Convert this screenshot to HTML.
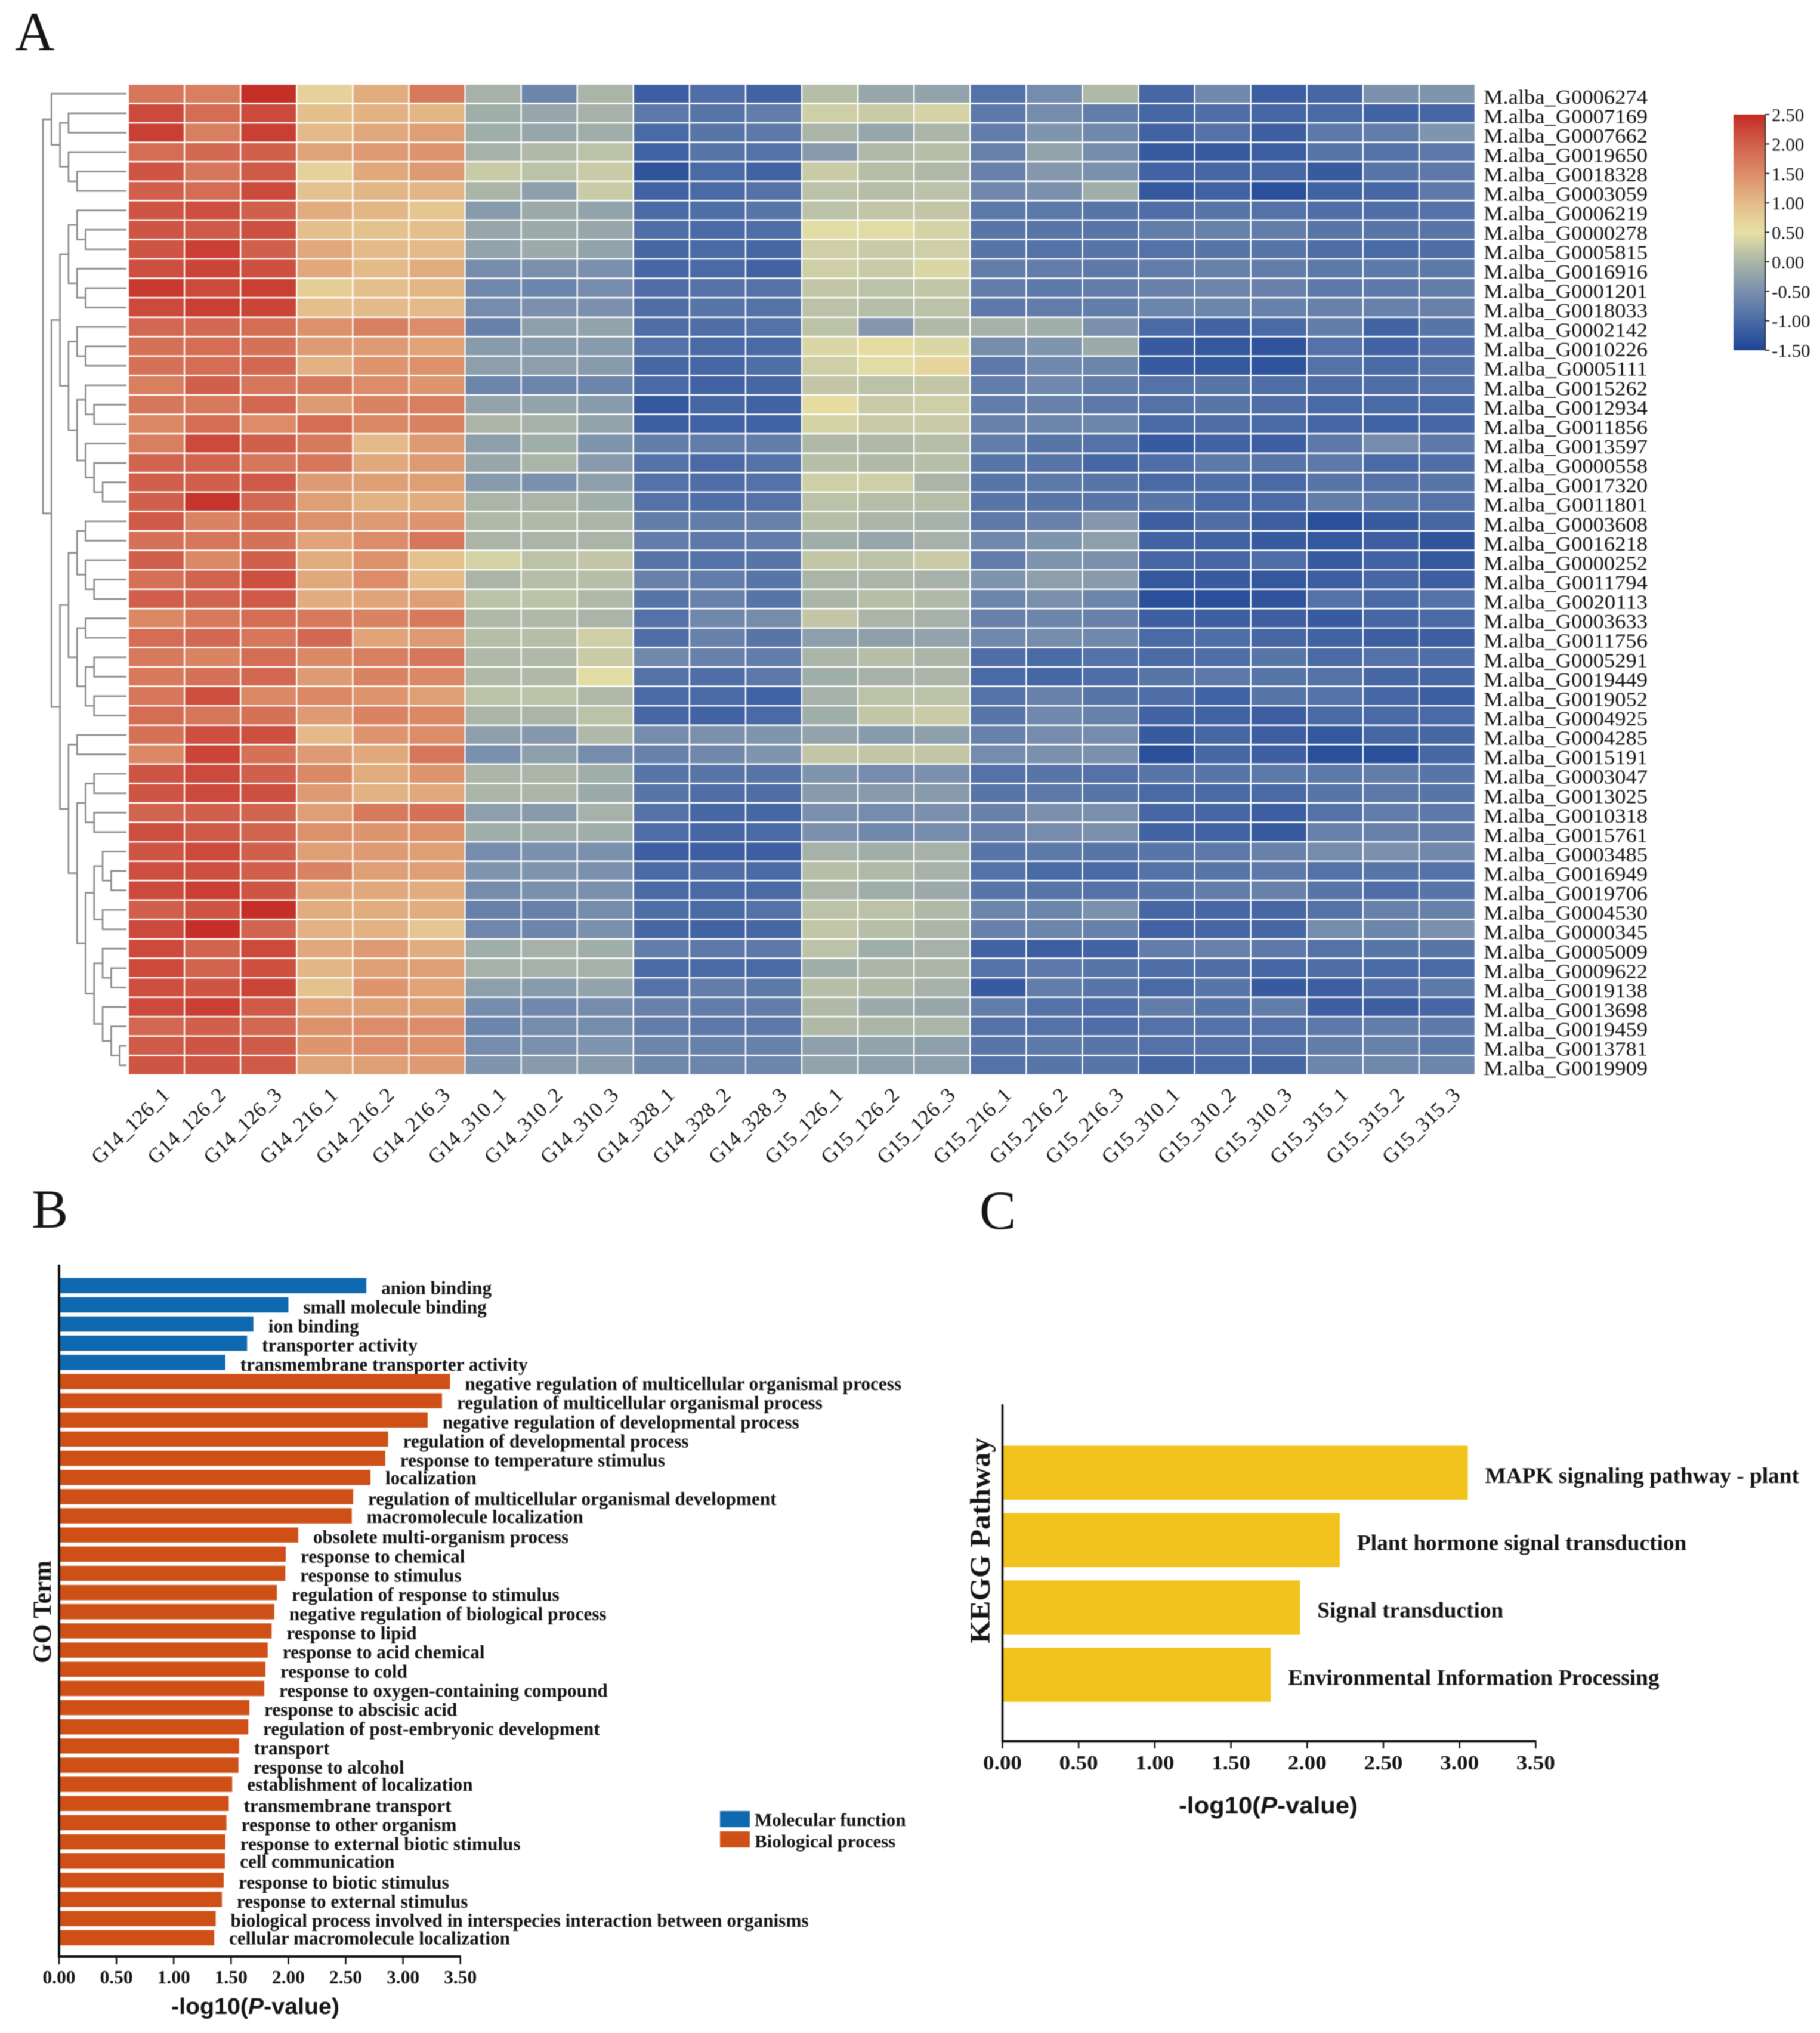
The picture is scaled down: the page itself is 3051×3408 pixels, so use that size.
<!DOCTYPE html>
<html lang="en">
<head>
<meta charset="utf-8">
<title>Heatmap with GO and KEGG enrichment</title>
<style>
html,body{margin:0;padding:0;background:#fff;}
svg{display:block;filter:blur(0.7px);}
text{font-family:"Liberation Serif",serif;fill:#151515;}
.bold{font-weight:bold;}
.sans{font-family:"Liberation Sans",sans-serif;font-weight:bold;}
</style>
</head>
<body>
<svg id="figure" xmlns="http://www.w3.org/2000/svg" width="3051" height="3408" viewBox="0 0 3051 3408">
<rect width="3051" height="3408" fill="#fff"/>
<defs>
<linearGradient id="cbar" x1="0" y1="1" x2="0" y2="0">
<stop offset="0" stop-color="#1d4596"/><stop offset="0.125" stop-color="#4a6aa6"/><stop offset="0.25" stop-color="#7a90ad"/><stop offset="0.375" stop-color="#aab5a8"/><stop offset="0.5" stop-color="#e6e0a4"/><stop offset="0.625" stop-color="#e4bb88"/><stop offset="0.75" stop-color="#dc8c68"/><stop offset="0.875" stop-color="#d05f4b"/><stop offset="1" stop-color="#c42a24"/>
</linearGradient>
</defs>
<text x="25" y="84" font-size="92">A</text>
<text x="53" y="2058" font-size="92">B</text>
<text x="1642" y="2060" font-size="92">C</text>
<g id="dendrogram"></g>
<g id="heatmap"></g>
<g id="geneLabels"></g>
<g id="sampleLabels"></g>
<g id="colorbar"></g>
<g id="goChart"></g>
<g id="keggChart"></g>
</svg>
<script>
const sampleNames = ["G14_126_1","G14_126_2","G14_126_3","G14_216_1","G14_216_2","G14_216_3","G14_310_1","G14_310_2","G14_310_3","G14_328_1","G14_328_2","G14_328_3","G15_126_1","G15_126_2","G15_126_3","G15_216_1","G15_216_2","G15_216_3","G15_310_1","G15_310_2","G15_310_3","G15_315_1","G15_315_2","G15_315_3"];
const geneNames = ["G0006274","G0007169","G0007662","G0019650","G0018328","G0003059","G0006219","G0000278","G0005815","G0016916","G0001201","G0018033","G0002142","G0010226","G0005111","G0015262","G0012934","G0011856","G0013597","G0000558","G0017320","G0011801","G0003608","G0016218","G0000252","G0011794","G0020113","G0003633","G0011756","G0005291","G0019449","G0019052","G0004925","G0004285","G0015191","G0003047","G0013025","G0010318","G0015761","G0003485","G0016949","G0019706","G0004530","G0000345","G0005009","G0009622","G0019138","G0013698","G0019459","G0013781","G0019909"];
const heatValues = [
[1.75,1.65,2.45,0.7,1.15,1.7,-0.05,-0.65,0,-1.15,-0.95,-1.1,0.1,-0.2,-0.25,-0.9,-0.55,0.05,-1.05,-0.6,-1.15,-1.05,-0.5,-0.45],
[2.2,1.85,2.2,0.95,1.1,1.05,-0.1,-0.2,-0.05,-0.8,-0.85,-0.75,0.3,0.25,0.35,-0.8,-0.55,-0.75,-1.05,-0.95,-1.05,-1,-1.1,-1.05],
[2.3,1.65,2.3,1,1.2,1.3,-0.1,-0.2,-0.1,-1,-0.85,-0.8,0,-0.2,0,-0.75,-0.45,-0.6,-1.1,-0.9,-1.15,-0.8,-0.75,-0.45],
[1.85,1.9,2,1.25,1.35,1.4,-0.05,0.05,0.15,-1.1,-0.85,-0.9,-0.35,0.05,0.1,-0.7,-0.25,-0.55,-1.2,-1.2,-1.15,-0.85,-0.9,-0.8],
[2.1,1.75,2.05,0.7,1.2,1.35,0.25,0.15,0.25,-1.3,-1,-1.1,0.25,0.1,0.05,-0.7,-0.4,-0.5,-1.1,-1.05,-1.05,-1.2,-0.85,-0.8],
[2,1.85,2.2,0.9,1.05,1.05,0,-0.3,0.25,-1.1,-1,-0.9,0.15,0.1,0.15,-0.6,-0.5,-0.1,-1.25,-1.1,-1.35,-1.1,-1.05,-0.8],
[2.1,2.15,2,1.15,1.05,0.85,-0.35,-0.15,-0.25,-1,-0.95,-0.85,0.15,0.2,0.2,-0.8,-0.8,-0.85,-0.95,-0.85,-0.9,-0.95,-0.95,-0.9],
[2.1,2.05,2.15,0.95,0.9,0.95,-0.2,-0.15,-0.2,-0.95,-1,-0.95,0.45,0.45,0.35,-0.85,-0.85,-0.85,-0.75,-0.7,-0.75,-0.85,-0.85,-0.85],
[2.1,2.3,2,1.2,1,1,-0.25,-0.15,-0.25,-1.05,-1,-1.05,0.3,0.25,0.3,-0.85,-0.9,-0.85,-0.9,-0.85,-0.85,-0.95,-1,-0.95],
[2.15,2.25,2.15,1.2,1,1.15,-0.55,-0.5,-0.5,-1.05,-1,-1.1,0.3,0.25,0.4,-0.75,-0.75,-0.8,-0.75,-0.7,-0.75,-0.8,-0.8,-0.8],
[2.35,2.2,2.3,0.75,0.95,1.05,-0.6,-0.65,-0.55,-0.95,-0.9,-0.9,0.2,0.15,0.2,-0.75,-0.8,-0.75,-0.7,-0.65,-0.7,-0.8,-0.8,-0.75],
[2.2,2.3,2.25,0.95,1,1,-0.55,-0.5,-0.5,-0.95,-0.85,-0.9,0.15,0.1,0.15,-0.8,-0.75,-0.75,-0.65,-0.65,-0.7,-0.7,-0.7,-0.7],
[1.9,1.9,1.85,1.45,1.65,1.5,-0.7,-0.3,-0.25,-0.95,-0.95,-0.9,0.15,-0.4,0.05,-0.05,-0.1,-0.5,-1,-1.1,-1,-0.75,-1.1,-0.85],
[1.8,1.85,1.8,1.35,1.35,1.25,-0.35,-0.35,-0.35,-0.9,-1,-1,0.4,0.55,0.4,-0.55,-0.45,-0.15,-1.2,-1.25,-1.3,-0.9,-1.1,-0.95],
[1.8,1.85,1.9,1.1,1.4,1.45,-0.3,-0.3,-0.35,-1.05,-1.05,-0.95,0.3,0.45,0.65,-0.8,-0.6,-0.65,-1.2,-1.25,-1.3,-0.9,-1,-0.9],
[1.65,2,1.75,1.7,1.5,1.4,-0.65,-0.65,-0.65,-1,-1.1,-1.05,0.2,0.15,0.2,-0.75,-0.6,-0.75,-0.9,-0.85,-0.95,-0.95,-0.95,-0.9],
[1.75,1.7,1.9,1.35,1.6,1.65,-0.25,-0.25,-0.35,-1.25,-1.05,-1.1,0.55,0.25,0.3,-0.75,-0.7,-0.8,-0.9,-0.85,-0.95,-1,-1,-1],
[1.55,1.85,1.5,1.85,1.55,1.6,0,-0.05,-0.25,-1.15,-1.1,-1.1,0.35,0.25,0.25,-0.7,-0.65,-0.65,-1,-0.95,-1,-1.05,-1.1,-1.05],
[1.65,2.2,2,1.7,1,1.35,-0.3,-0.1,-0.45,-0.75,-0.75,-0.75,0.05,0.05,0.1,-0.75,-0.85,-0.9,-1.2,-1.1,-1.15,-0.8,-0.55,-0.8],
[1.95,1.95,1.75,1.75,1.2,1.35,-0.2,0,-0.35,-0.9,-1,-0.9,0.1,0.05,0.1,-0.85,-0.85,-1.05,-0.95,-0.8,-0.85,-0.8,-1,-0.95],
[2,2,2.05,1.35,1.3,1.3,-0.35,-0.5,-0.3,-0.9,-0.95,-0.9,0.3,0.3,0,-0.85,-0.8,-0.85,-1,-0.95,-1,-0.85,-0.9,-0.85],
[2,2.4,1.9,1.3,1.1,1.15,0,0,-0.1,-0.9,-0.95,-0.9,0.15,0.1,0.1,-0.85,-0.85,-0.85,-0.85,-1,-1,-0.75,-0.8,-0.9],
[2.05,1.6,1.8,1.45,1.35,1.4,0.05,0.05,0,-0.75,-0.75,-0.7,0.1,0,-0.05,-0.8,-0.7,-0.4,-1.15,-0.95,-1.15,-1.35,-1.2,-1.05],
[1.8,1.75,1.8,1.25,1.5,1.75,0,0,0,-0.75,-0.8,-0.75,-0.1,-0.2,-0.05,-0.6,-0.45,-0.3,-1.1,-1.1,-1.2,-1.25,-1.15,-1.3],
[2,1.55,2,1.15,1.45,0.9,0.35,0.15,0.2,-0.85,-0.9,-0.85,0.2,0.15,0.25,-0.75,-0.45,-0.5,-1.05,-1.05,-0.95,-1.2,-1.1,-1.25],
[1.8,1.95,2.15,1.2,1.5,1,0,0.1,0.1,-0.7,-0.75,-0.85,0,0,-0.05,-0.45,-0.3,-0.35,-1.25,-1.2,-1.25,-1.15,-1.05,-1.15],
[2,1.95,2.05,1.15,1.25,1.3,0.15,0.15,0.05,-0.85,-0.7,-0.85,0,0.1,0.05,-0.65,-0.5,-0.65,-1.35,-1.35,-1.3,-0.9,-1,-0.9],
[1.55,1.7,1.85,1.7,1.6,1.7,0.05,0.05,0,-0.9,-0.6,-0.55,0.2,0,-0.05,-0.7,-0.65,-0.7,-1.15,-1.15,-1.15,-1.2,-1.05,-1],
[1.85,1.9,1.75,1.9,1.25,1.35,0.1,0.1,0.3,-0.95,-0.7,-0.85,-0.3,-0.3,-0.25,-0.6,-0.55,-0.6,-1,-0.95,-1.05,-1.1,-1.15,-1.15],
[1.7,1.6,1.85,1.55,1.65,1.75,0.05,0.05,0.25,-0.6,-0.7,-0.75,0,0.1,0,-0.95,-1,-0.9,-1,-0.95,-0.85,-1,-0.9,-0.95],
[1.7,1.8,1.9,1.35,1.6,1.55,0.05,0.05,0.45,-0.9,-0.95,-0.8,-0.1,-0.05,0,-1,-1.05,-0.95,-0.85,-0.8,-0.85,-0.9,-1.05,-1.05],
[1.75,2.15,1.55,1.55,1.4,1.3,0.15,0.15,0.05,-1,-1,-1.1,-0.05,0.15,0.15,-0.9,-0.7,-0.85,-0.95,-1.1,-0.85,-0.9,-1.05,-1.15],
[1.85,1.75,1.8,1.35,1.6,1.55,0,0,0.15,-1.05,-1.1,-1,-0.1,0.2,0.25,-0.85,-0.6,-0.7,-1.1,-1.1,-1.15,-1,-1,-1],
[1.8,2.15,2.15,1,1.4,1.5,-0.3,-0.4,0.05,-0.55,-0.5,-0.45,-0.25,-0.35,-0.3,-0.7,-0.55,-0.55,-1.2,-1.05,-1.15,-1.25,-1.05,-1.05],
[1.55,2.25,1.8,1.35,1.2,1.75,-0.5,-0.3,-0.55,-0.7,-0.6,-0.45,0.2,0.2,0.2,-0.55,-0.5,-0.5,-1.35,-1.05,-1.15,-1.35,-1.35,-1.05],
[2.1,2.2,2,1.55,1.15,1.4,0,0,-0.1,-0.85,-0.85,-0.85,-0.45,-0.55,-0.5,-0.9,-0.85,-0.9,-0.85,-0.85,-0.8,-0.8,-0.75,-0.85],
[2.1,2.2,2.15,1.35,1.1,1.2,0,0,-0.15,-0.85,-0.95,-0.95,-0.35,-0.35,-0.35,-0.85,-0.8,-0.85,-1,-1,-1,-0.85,-0.8,-0.85],
[1.95,2,1.95,1.3,1.7,1.8,-0.3,-0.35,-0.05,-0.9,-1.05,-1.05,-0.5,-0.55,-0.5,-0.7,-0.5,-0.5,-1.05,-1.05,-1.15,-0.9,-0.75,-0.8],
[2.15,2.05,1.95,1.45,1.4,1.45,-0.1,-0.1,-0.1,-0.95,-1.05,-1,-0.5,-0.6,-0.55,-0.7,-0.55,-0.5,-1.1,-1.1,-1.2,-0.7,-0.7,-0.75],
[2.1,2.2,2,1.3,1.35,1.3,-0.55,-0.5,-0.5,-1.15,-1.15,-1.15,-0.05,-0.1,-0.05,-0.85,-0.8,-0.85,-0.85,-0.8,-0.7,-0.55,-0.5,-0.6],
[2.15,2.15,2,1.6,1.3,1.3,-0.45,-0.45,-0.5,-1,-0.95,-1,0.1,0.05,-0.05,-0.9,-1,-1,-0.9,-0.85,-0.8,-0.9,-0.85,-0.9],
[2.2,2.3,2.1,1.25,1.2,1.15,-0.55,-0.5,-0.5,-1,-1,-1,0,-0.1,-0.15,-0.85,-0.85,-0.9,-0.85,-0.75,-0.7,-0.85,-0.95,-0.85],
[2,2.1,2.45,1.15,1.15,1.15,-0.7,-0.7,-0.55,-0.95,-1,-0.9,0.15,0.15,0.05,-0.65,-0.65,-0.5,-1.05,-1.05,-1.05,-0.9,-0.7,-0.7],
[2.2,2.45,1.95,1.1,1.1,0.85,-0.6,-0.65,-0.5,-1.05,-1.1,-1.05,0.2,0.1,0,-0.7,-0.65,-0.7,-1.1,-1.05,-1.05,-0.55,-0.65,-0.5],
[2.2,1.95,2.2,1.2,1.35,1.15,-0.1,-0.05,-0.1,-0.75,-0.8,-0.8,0.15,-0.1,-0.05,-1.1,-1.15,-1.1,-0.75,-0.7,-0.8,-0.9,-0.85,-0.85],
[2.2,1.95,2.15,1.05,1.3,1.3,-0.05,-0.05,-0.05,-1,-1,-1,-0.1,0,0,-0.9,-0.8,-0.85,-0.95,-0.95,-1.05,-0.95,-1,-1],
[2.15,2.1,2.25,0.9,1.4,1.25,-0.3,-0.35,-0.25,-0.9,-0.75,-0.8,0.1,0.05,-0.05,-1.2,-0.75,-0.85,-1,-0.85,-1.2,-1.15,-0.95,-0.8],
[2.2,2.3,2.05,1.25,1.3,1.3,-0.55,-0.6,-0.55,-0.7,-0.75,-0.75,0.05,-0.15,-0.2,-0.75,-0.9,-0.95,-0.75,-0.85,-0.75,-1.15,-1.15,-1.05],
[1.9,2,1.9,1.45,1.5,1.5,-0.65,-0.55,-0.55,-0.75,-0.8,-0.8,0.05,0,0,-0.9,-0.9,-0.95,-0.9,-0.9,-0.9,-0.8,-0.75,-0.8],
[2.05,2.1,2.05,1.4,1.5,1.45,-0.55,-0.5,-0.45,-0.65,-0.7,-0.7,-0.3,-0.25,-0.3,-0.85,-0.8,-0.85,-0.9,-0.9,-0.9,-0.75,-0.7,-0.8],
[2.1,2.1,2.05,1.25,1.3,1.35,-0.45,-0.35,-0.35,-0.6,-0.65,-0.65,-0.25,-0.3,-0.3,-0.9,-0.85,-0.85,-1.05,-1,-1.05,-0.65,-0.6,-0.65]
];
const dendroTree = [0,
  [1,0,[2,[3,1,2],[3,3,[4,4,5]]]],
  [1,
    [2,
      [3,[4,6,[5,7,8]],[4,9,[5,10,11]]],
      [3,[4,12,[5,13,14]],[4,[5,15,[6,16,17]],[5,18,[6,19,[7,20,21]]]]]
    ],
    [2,
      [3,[4,[5,22,23],[5,24,[6,25,26]]],[4,[5,27,28],[5,[6,29,30],[6,31,32]]]],
      [3,[4,33,34],
        [4,
          [5,[6,35,36],[6,37,38]],
          [5,
            [6,[7,39,[8,40,41]],[7,42,43]],
            [6,[7,44,[8,45,46]],[7,47,[8,48,[9,49,50]]]]
          ]
        ]
      ]
    ]
  ]
];
const colorbarTicks = [2.5,2,1.5,1,0.5,0,-0.5,-1,-1.5];
const goTerms = ["anion binding","small molecule binding","ion binding","transporter activity","transmembrane transporter activity","negative regulation of multicellular organismal process","regulation of multicellular organismal process","negative regulation of developmental process","regulation of developmental process","response to temperature stimulus","localization","regulation of multicellular organismal development","macromolecule localization","obsolete multi-organism process","response to chemical","response to stimulus","regulation of response to stimulus","negative regulation of biological process","response to lipid","response to acid chemical","response to cold","response to oxygen-containing compound","response to abscisic acid","regulation of post-embryonic development","transport","response to alcohol","establishment of localization","transmembrane transport","response to other organism","response to external biotic stimulus","cell communication","response to biotic stimulus","response to external stimulus","biological process involved in interspecies interaction between organisms","cellular macromolecule localization"];
const goValues = [2.68,2,1.695,1.64,1.45,3.41,3.34,3.215,2.87,2.845,2.716,2.565,2.553,2.086,1.977,1.973,1.9,1.877,1.854,1.82,1.8,1.79,1.66,1.65,1.57,1.565,1.51,1.48,1.46,1.45,1.447,1.436,1.42,1.366,1.353];
const goCategories = ["mf","mf","mf","mf","mf","bp","bp","bp","bp","bp","bp","bp","bp","bp","bp","bp","bp","bp","bp","bp","bp","bp","bp","bp","bp","bp","bp","bp","bp","bp","bp","bp","bp","bp","bp"];
const goTicks = [0,0.5,1,1.5,2,2.5,3,3.5];
const keggTerms = ["MAPK signaling pathway - plant","Plant hormone signal transduction","Signal transduction","Environmental Information Processing"];
const keggValues = [3.054,2.214,1.953,1.761];
const keggTicks = [0,0.5,1,1.5,2,2.5,3,3.5];

const NS = "http://www.w3.org/2000/svg";
function mk(parent, tag, attrs, txt) {
  const e = document.createElementNS(NS, tag);
  for (const k in attrs) e.setAttribute(k, attrs[k]);
  if (txt !== undefined) e.textContent = txt;
  parent.appendChild(e);
  return e;
}
const colorStops = [[-1.5,[29,69,150]],[-1,[74,106,166]],[-0.5,[122,144,173]],[0,[170,181,168]],[0.5,[230,224,164]],[1,[228,187,136]],[1.5,[220,140,104]],[2,[208,95,75]],[2.5,[196,42,36]]];
function valueColor(v) {
  const t = Math.max(-1.5, Math.min(2.5, v));
  for (let i = 0; i < colorStops.length - 1; i++) {
    const a = colorStops[i], b = colorStops[i + 1];
    if (t <= b[0]) {
      const f = (t - a[0]) / (b[0] - a[0]);
      const c = a[1].map((x, j) => Math.round(x + (b[1][j] - x) * f));
      return "rgb(" + c.join(",") + ")";
    }
  }
  return "rgb(196,42,36)";
}

/* heatmap */
const hmLeft = 215, hmRight = 2473, hmTop = 141, hmBottom = 1802;
const colW = (hmRight - hmLeft) / sampleNames.length;
const rowH = (hmBottom - hmTop) / geneNames.length;
const colX = c => hmLeft + c * colW;
const rowY = r => hmTop + r * rowH;
const heatG = document.getElementById("heatmap");
heatValues.forEach((row, r) => {
  row.forEach((v, c) => {
    const cell = mk(heatG, "rect", {x: colX(c) + 1.2, y: rowY(r) + 1.2, width: colW - 2.4, height: rowH - 2.6, fill: valueColor(v)});
    
    
  });
});

/* gene labels */
const geneG = document.getElementById("geneLabels");
geneNames.forEach((g, r) => {
  const t = mk(geneG, "text", {x: 2487, y: rowY(r) + rowH / 2 + 16.5, "font-size": 34, textLength: 275, lengthAdjust: "spacingAndGlyphs"}, "M.alba_" + g);
  
  
});

/* sample labels */
const sampleG = document.getElementById("sampleLabels");
sampleNames.forEach((s, c) => {
  const px = colX(c) + colW / 2 + 24, py = 1838;
  const t = mk(sampleG, "text", {x: px, y: py, "font-size": 35, "text-anchor": "end", textLength: 166, lengthAdjust: "spacingAndGlyphs", transform: "rotate(-44 " + px + " " + py + ")"}, s);
  
  
});

/* dendrogram */
const dendroG = document.getElementById("dendrogram");
const levelX = lv => 72 + lv * 14.3;
function drawNode(node) {
  if (typeof node === "number") return {y: rowY(node) + rowH / 2, x: 212};
  const lv = node[0];
  const x = levelX(lv);
  const a = drawNode(node[1]), b = drawNode(node[2]);
  const p = mk(dendroG, "path", {d: "M" + a.x + " " + a.y + "H" + x + "V" + b.y + "H" + b.x, fill: "none", stroke: "#8c8c8c", "stroke-width": 2.7});
  
  
  return {y: (a.y + b.y) / 2, x: x};
}
drawNode(dendroTree);

/* colorbar */
const cbG = document.getElementById("colorbar");
const cbTop = 192, cbBottom = 587, cbLeft = 2906, cbRight = 2959;
const cbY = v => cbBottom - (v + 1.5) / 4 * (cbBottom - cbTop);
const cbRect = mk(cbG, "rect", {x: cbLeft, y: cbTop, width: cbRight - cbLeft, height: cbBottom - cbTop, fill: "url(#cbar)"});


const cbAxis = mk(cbG, "line", {x1: cbRight, x2: cbRight, y1: cbTop, y2: cbBottom, stroke: "#222", "stroke-width": 2});


colorbarTicks.forEach(v => {
  const y = cbY(v);
  const tick = mk(cbG, "line", {x1: cbRight, x2: cbRight + 7, y1: y, y2: y, stroke: "#222", "stroke-width": 2});
  
  
  const lab = mk(cbG, "text", {x: 2970, y: y + 11, "font-size": 31}, v.toFixed(2));
  
  
});

/* GO chart */
const goG = document.getElementById("goChart");
const goX0 = 99, goUnit = 192.2, goFirstTop = 2142.5, goPitch = 32.15, goBarH = 25.5;
const goX = v => goX0 + v * goUnit;
const goColors = {mf: "#0f69b0", bp: "#cf5017"};
const goNudge = {"localization": -3, "macromolecule localization": -2, "establishment of localization": -3, "cell communication": -3, "cellular macromolecule localization": -3};
goValues.forEach((v, i) => {
  const y = goFirstTop + i * goPitch;
  const bar = mk(goG, "rect", {x: goX0 + 2, y: y, width: goX(v) - goX0 - 2, height: goBarH, fill: goColors[goCategories[i]]});
  
  
  const nudge = goNudge[goTerms[i]] || 0;
  const t = mk(goG, "text", {"class": "bold", x: goX(v) + 25, y: y + goBarH / 2 + 14 + nudge, "font-size": 31.25}, goTerms[i]);
  
  
});
const goYAxis = mk(goG, "line", {x1: goX0, x2: goX0, y1: 2120, y2: 3282, stroke: "#111", "stroke-width": 4});


const goXAxis = mk(goG, "line", {x1: goX0 - 2, x2: goX(3.5) + 1, y1: 3280, y2: 3280, stroke: "#111", "stroke-width": 4});


goTicks.forEach(v => {
  const tick = mk(goG, "line", {x1: goX(v), x2: goX(v), y1: 3280, y2: 3293, stroke: "#111", "stroke-width": 2.5});
  
  
  const lab = mk(goG, "text", {"class": "bold", x: goX(v), y: 3325, "font-size": 32, "text-anchor": "middle", textLength: 55, lengthAdjust: "spacingAndGlyphs"}, v.toFixed(2));
  
  
});
const goTitle = mk(goG, "text", {"class": "bold", x: 0, y: 0, "font-size": 43, textLength: 172, lengthAdjust: "spacingAndGlyphs", transform: "translate(85 2788) rotate(-90)"}, "GO Term");


const goXT = mk(goG, "text", {"class": "sans", x: 287, y: 3376, "font-size": 38, textLength: 282, lengthAdjust: "spacingAndGlyphs"});


mk(goXT, "tspan", {}, "-log10(");
mk(goXT, "tspan", {"font-style": "italic"}, "P");
mk(goXT, "tspan", {}, "-value)");

/* GO legend */
const legendItems = [["Molecular function", "mf", 3036, 3061], ["Biological process", "bp", 3070, 3097]];
legendItems.forEach(it => {
  const sw = mk(goG, "rect", {x: 1207, y: it[2], width: 50, height: 27, fill: goColors[it[1]]});
  
  
  const t = mk(goG, "text", {"class": "bold", x: 1265, y: it[3], "font-size": 31}, it[0]);
  
  
});

/* KEGG chart */
const kgG = document.getElementById("keggChart");
const kgX0 = 1680.5, kgUnit = 255.4, kgFirstTop = 2423.5, kgPitch = 112.9, kgBarH = 90.5;
const kgX = v => kgX0 + v * kgUnit;
keggValues.forEach((v, i) => {
  const y = kgFirstTop + i * kgPitch;
  const bar = mk(kgG, "rect", {x: kgX0 + 1, y: y, width: kgX(v) - kgX0 - 1, height: kgBarH, fill: "#f2c31c"});
  
  
  const t = mk(kgG, "text", {"class": "bold", x: kgX(v) + 29, y: y + kgBarH / 2 + 17, "font-size": 37.3}, keggTerms[i]);
  
  
});
const kgYAxis = mk(kgG, "line", {x1: kgX0, x2: kgX0, y1: 2354, y2: 2921, stroke: "#111", "stroke-width": 3.5});


const kgXAxis = mk(kgG, "line", {x1: kgX0 - 1.5, x2: kgX(3.5) + 1, y1: 2919, y2: 2919, stroke: "#111", "stroke-width": 4.5});


keggTicks.forEach(v => {
  const tick = mk(kgG, "line", {x1: kgX(v), x2: kgX(v), y1: 2919, y2: 2931, stroke: "#111", "stroke-width": 2.5});
  
  
  const lab = mk(kgG, "text", {"class": "bold", x: kgX(v), y: 2966, "font-size": 34, "text-anchor": "middle", textLength: 65, lengthAdjust: "spacingAndGlyphs"}, v.toFixed(2));
  
  
});
const kgTitle = mk(kgG, "text", {"class": "bold", x: 0, y: 0, "font-size": 48, textLength: 345, lengthAdjust: "spacingAndGlyphs", transform: "translate(1659 2755) rotate(-90)"}, "KEGG Pathway");


const kgXT = mk(kgG, "text", {"class": "sans", x: 1976, y: 3040, "font-size": 40, textLength: 300, lengthAdjust: "spacingAndGlyphs"});


mk(kgXT, "tspan", {}, "-log10(");
mk(kgXT, "tspan", {"font-style": "italic"}, "P");
mk(kgXT, "tspan", {}, "-value)");
</script>
</body>
</html>
